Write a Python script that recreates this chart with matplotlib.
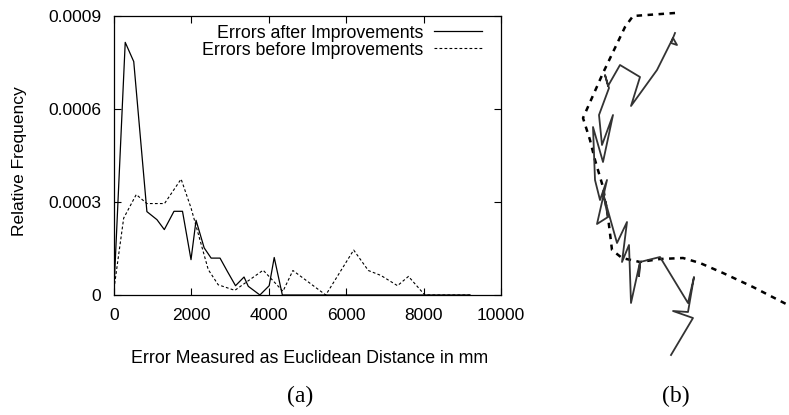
import matplotlib
matplotlib.use("Agg")
import matplotlib.pyplot as plt

# (a) error histograms
after_x = [0, 290, 510, 850, 1110, 1300, 1550, 1770, 1990, 2120, 2330, 2510,
           2740, 2930, 3140, 3360, 3470, 3770, 4010, 4140, 4350, 9200]
after_y = [0.00002, 0.000815, 0.000753, 0.000269, 0.000243, 0.000211, 0.00027,
           0.00027, 0.000114, 0.000241, 0.000152, 0.000119, 0.000119, 0.000076,
           0.00003, 0.000058, 0.000028, 0.0, 0.00003, 0.000121, 0.0, 0.0]

before_x = [0, 250, 575, 850, 1305, 1734, 1990, 2435, 2692, 3122, 3854, 4366,
            4623, 5472, 6193, 6572, 6898, 7326, 7609, 8031, 9200]
before_y = [0.00002, 0.000248, 0.000324, 0.000295, 0.000295, 0.000374, 0.000281,
            0.000082, 0.000033, 0.000015, 0.00008, 0.000012, 0.000079, 0.0,
            0.000145, 0.000079, 0.000063, 0.00003, 0.00006, 0.0, 0.0]

x_ticks = [0, 2000, 4000, 6000, 8000, 10000]
y_ticks = [0, 0.0003, 0.0006, 0.0009]
y_tick_labels = ["0", "0.0003", "0.0006", "0.0009"]

# (b) trajectories (image units)
path_x = [675, 671, 677, 673, 657, 631, 640, 620, 608, 605, 609, 599, 602, 613,
          603, 593, 595, 600, 607, 597, 608, 603, 617, 627, 622, 629, 631, 640,
          639, 640, 660, 688, 694, 688, 673, 693, 671]
path_y = [33, 43, 45, 38, 70, 106, 77, 65, 86, 75, 88, 115, 145, 115,
          162, 127, 180, 200, 180, 224, 217, 193, 243, 222, 262, 245, 303, 262,
          276, 262, 257, 303, 277, 312, 311, 318, 355]

ref_x = [675, 633, 625, 603, 583, 590, 595, 603, 608, 612, 622, 640, 660, 683,
         700, 723, 753, 790]
ref_y = [13, 16, 27, 73, 118, 140, 160, 187, 217, 250, 258, 262, 259, 258,
         263, 273, 287, 306]

plt.rcParams['font.family'] = ['Liberation Sans', 'DejaVu Sans']
W, H = 789, 415
fig = plt.figure(figsize=(W / 100, H / 100), dpi=100)

ax = fig.add_axes([114 / W, 1 - 295 / H, 387 / W, 279 / H])
ax.plot(after_x, after_y, color='black', lw=0.9, label='Errors after Improvements')
ax.plot(before_x, before_y, color='black', lw=0.8, dashes=(2.5, 2),
        label='Errors before Improvements')
ax.set_xlim(0, 10000)
ax.set_ylim(0, 0.0009)
ax.set_xticks(x_ticks)
ax.set_yticks(y_ticks)
ax.set_yticklabels(y_tick_labels)
ax.tick_params(direction='in', length=5, width=0.8, labelsize=12.5,
               top=True, right=True, pad=9)
for s in ax.spines.values():
    s.set_linewidth(0.9)
ax.legend(loc='upper right', bbox_to_anchor=(0.951, 0.969), frameon=False,
          markerfirst=False, fontsize=12.8, handlelength=2.7, handletextpad=0.6,
          labelspacing=0.0, borderpad=0, borderaxespad=0)

fig.text(20 / W, 1 - 161 / H, 'Relative Frequency', rotation=90,
         ha='center', va='center', fontsize=12.5)
fig.text(310 / W, 1 - 358 / H, 'Error Measured as Euclidean Distance in mm',
         ha='center', va='center', fontsize=12.8)
fig.text(300 / W, 1 - 396 / H, '(a)', ha='center', va='center',
         fontsize=17, family='Liberation Serif')
fig.text(676 / W, 1 - 396 / H, '(b)', ha='center', va='center',
         fontsize=17, family='Liberation Serif')

bx = fig.add_axes([0, 0, 1, 1])
bx.set_xlim(0, W)
bx.set_ylim(H, 0)
bx.axis('off')
bx.plot(ref_x, ref_y, color='black', lw=1.8, dashes=(2.2, 2.2))
bx.plot(path_x, path_y, color='#333333', lw=1.3)

fig.savefig('out.png', dpi=100)
